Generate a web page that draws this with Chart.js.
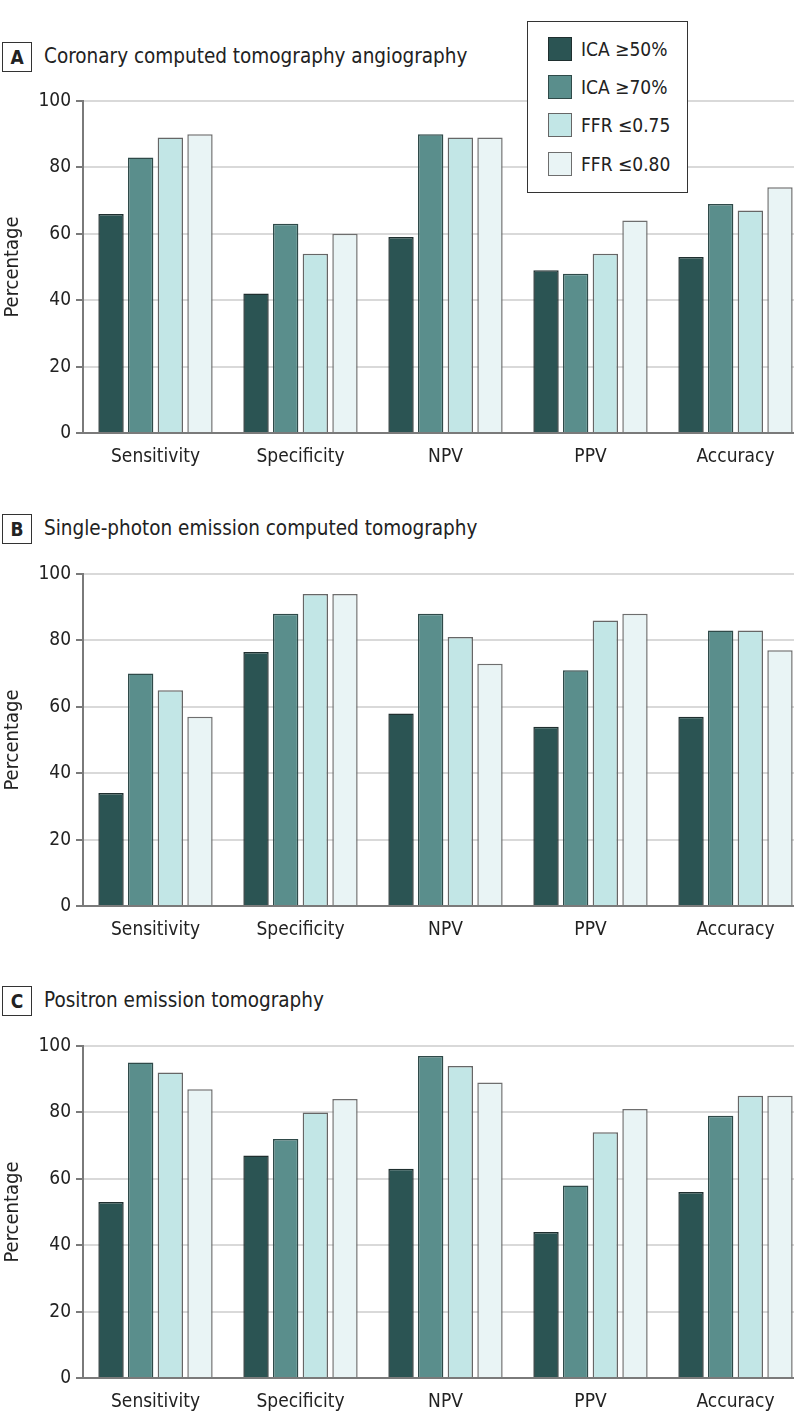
<!DOCTYPE html>
<html>
<head>
<meta charset="utf-8">
<script src="https://cdn.jsdelivr.net/npm/chart.js@4.4.0/dist/chart.umd.min.js"></script>
<style>
html, body { margin: 0; padding: 0; background: #fff; overflow: hidden; }
body { width: 794px; height: 1427px; position: relative; font-family: "DejaVu Sans Condensed", "DejaVu Sans", sans-serif; color: #222; }
.tag { position: absolute; left: 2px; width: 28px; height: 28px; border: 1.5px solid #333; font-weight: bold; font-size: 19px; line-height: 28px; text-align: center; }
.title { position: absolute; left: 44px; font-size: 20.5px; white-space: nowrap; line-height: 30px; }
canvas { position: absolute; left: 0; }
#legend { position: absolute; left: 527px; top: 21px; width: 159px; height: 170px; border: 1.5px solid #333; background: #fff; z-index: 5; }
#legend .item { position: absolute; left: 20px; height: 24px; font-size: 19px; line-height: 24px; white-space: nowrap; }
#legend .sw { position: absolute; left: 0; top: 0; width: 22px; height: 22px; border: 1.5px solid #333; }
#legend .lbl { position: absolute; left: 33px; top: 0; }
</style>
</head>
<body>

<div class="tag" style="top:42px">A</div>
<div class="title" style="top:41px">Coronary computed tomography angiography</div>
<canvas id="chartA" width="810" height="400" style="top:81px"></canvas>

<div class="tag" style="top:514px">B</div>
<div class="title" style="top:513px">Single-photon emission computed tomography</div>
<canvas id="chartB" width="810" height="400" style="top:554px"></canvas>

<div class="tag" style="top:986px">C</div>
<div class="title" style="top:985px">Positron emission tomography</div>
<canvas id="chartC" width="810" height="400" style="top:1026px"></canvas>

<div id="legend"></div>

<script>
var categories = ['Sensitivity', 'Specificity', 'NPV', 'PPV', 'Accuracy'];
var seriesNames = ['ICA ≥50%', 'ICA ≥70%', 'FFR ≤0.75', 'FFR ≤0.80'];
var yTicks = [0, 20, 40, 60, 80, 100];

// A: coronary CTA
var ctaIca50 = [66, 42, 59, 49, 53];
var ctaIca70 = [83, 63, 90, 48, 69];
var ctaFfr75 = [89, 54, 89, 54, 67];
var ctaFfr80 = [90, 60, 89, 64, 74];

// B: SPECT
var spectIca50 = [34, 76.5, 58, 54, 57];
var spectIca70 = [70, 88, 88, 71, 83];
var spectFfr75 = [65, 94, 81, 86, 83];
var spectFfr80 = [57, 94, 73, 88, 77];

// C: PET
var petIca50 = [53, 67, 63, 44, 56];
var petIca70 = [95, 72, 97, 58, 79];
var petFfr75 = [92, 80, 94, 74, 85];
var petFfr80 = [87, 84, 89, 81, 85];

var fills = ['#2b5453', '#5a8e8c', '#c2e6e6', '#e9f4f5'];
var edges = ['#1f2f2f', '#2f4a49', '#666666', '#6e6e6e'];

var fontFam = '"DejaVu Sans Condensed", "DejaVu Sans", sans-serif';

function makeChart(id, series) {
    var datasets = [];
    for (var i = 0; i < series.length; i++) {
        datasets.push({
            label: seriesNames[i],
            data: series[i],
            backgroundColor: fills[i],
            borderColor: edges[i],
            borderWidth: 1.5,
            categoryPercentage: 0.818,
            barPercentage: 0.855
        });
    }
    return new Chart(document.getElementById(id), {
        type: 'bar',
        data: { labels: categories, datasets: datasets },
        options: {
            responsive: false,
            animation: false,
            layout: { padding: { top: 20, right: 2, bottom: 8, left: 0 } },
            plugins: { legend: { display: false }, tooltip: { enabled: false } },
            scales: {
                x: {
                    grid: { display: false },
                    border: { display: true, color: '#7a7a7a', width: 2 },
                    ticks: { color: '#222', font: { size: 19, family: fontFam }, padding: 5 },
                    afterFit: function(s) { s.height = 40; }
                },
                y: {
                    min: 0, max: 100,
                    afterBuildTicks: function(s) { s.ticks = yTicks.map(function(v) { return { value: v }; }); },
                    ticks: { color: '#222', font: { size: 19, family: fontFam }, padding: 5 },
                    grid: {
                        color: function(c) { return c.tick && c.tick.value === 0 ? '#7a7a7a' : '#d9d9d9'; },
                        lineWidth: 2,
                        tickLength: 7,
                        tickColor: '#7a7a7a'
                    },
                    border: { color: '#7a7a7a', width: 2 },
                    title: { display: true, text: 'Percentage', color: '#222', font: { size: 20, family: fontFam }, padding: { top: 1, bottom: 0 } },
                    afterFit: function(s) { s.width = 83; }
                }
            }
        }
    });
}

makeChart('chartA', [ctaIca50, ctaIca70, ctaFfr75, ctaFfr80]);
makeChart('chartB', [spectIca50, spectIca70, spectFfr75, spectFfr80]);
makeChart('chartC', [petIca50, petIca70, petFfr75, petFfr80]);

// legend built from the same series names / colours
var lg = document.getElementById('legend');
var tops = [15, 53, 91, 130];
for (var i = 0; i < seriesNames.length; i++) {
    var it = document.createElement('div');
    it.className = 'item';
    it.style.top = tops[i] + 'px';
    it.innerHTML = '<div class="sw" style="background:' + fills[i] + ';border-color:' + edges[i] + '"></div><div class="lbl">' + seriesNames[i] + '</div>';
    lg.appendChild(it);
}
</script>
</body>
</html>
